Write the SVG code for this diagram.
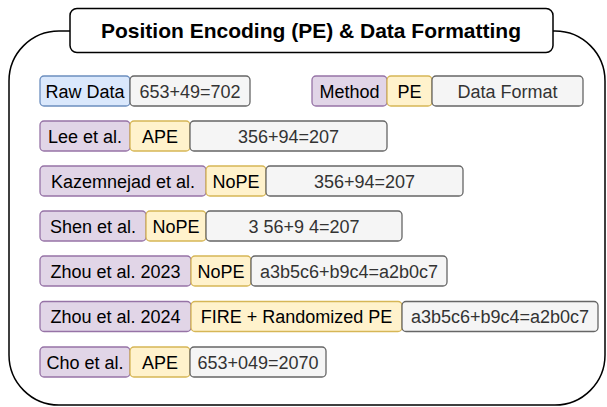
<svg xmlns="http://www.w3.org/2000/svg" width="607" height="407" viewBox="0 0 607 407">
<style>
  .b { stroke-width: 1.3; }
  .m { fill: #e1d5e7; stroke: #9673a6; }
  .p { fill: #fff2cc; stroke: #d6b656; }
  .d { fill: #f5f5f5; stroke: #666666; }
  .r { fill: #dae8fc; stroke: #6c8ebf; }
  text { font-family: "Liberation Sans", Arial, sans-serif; font-size: 18px; text-anchor: middle; fill: #000; }
  text.g { fill: #333333; }
  .title { font-size: 21px; font-weight: bold; }
</style>
<g id="frame">
  <rect x="9" y="31" width="596" height="374" rx="50" ry="50" fill="#ffffff" stroke="#000000" stroke-width="1.5"/>
</g>
<g id="title">
  <rect x="70" y="8.5" width="483" height="44" rx="7" ry="7" fill="#ffffff" stroke="#000000" stroke-width="1.5"/>
  <text class="title" x="311" y="38">Position Encoding (PE) &amp; Data Formatting</text>
</g>
<g id="connectors"></g>
<g id="row-raw">
  <rect class="b r" x="40" y="76" width="90" height="30" rx="4"/>
  <text x="85" y="97.5">Raw Data</text>
  <rect class="b d" x="130" y="76" width="120" height="30" rx="4"/>
  <text class="g" x="190" y="97.5">653+49=702</text>
</g>
<g id="legend">
  <rect class="b m" x="312" y="76" width="75" height="30" rx="4"/>
  <text x="349.5" y="97.5">Method</text>
  <rect class="b p" x="387" y="76" width="45" height="30" rx="4"/>
  <text x="409.5" y="97.5">PE</text>
  <rect class="b d" x="432" y="76" width="151" height="30" rx="4"/>
  <text class="g" x="507.5" y="97.5">Data Format</text>
</g>
<g id="row-lee">
  <rect class="b m" x="40" y="121" width="90" height="30" rx="4"/>
  <text x="85" y="142.5">Lee et al.</text>
  <rect class="b p" x="130" y="121" width="60" height="30" rx="4"/>
  <text x="160" y="142.5">APE</text>
  <rect class="b d" x="190" y="121" width="197" height="30" rx="4"/>
  <text class="g" x="288.5" y="142.5">356+94=207</text>
</g>
<g id="row-kazemnejad">
  <rect class="b m" x="40" y="166" width="166" height="30" rx="4"/>
  <text x="123" y="187.5">Kazemnejad et al.</text>
  <rect class="b p" x="206" y="166" width="60" height="30" rx="4"/>
  <text x="236" y="187.5">NoPE</text>
  <rect class="b d" x="266" y="166" width="197" height="30" rx="4"/>
  <text class="g" x="364.5" y="187.5">356+94=207</text>
</g>
<g id="row-shen">
  <rect class="b m" x="40" y="211" width="106" height="30" rx="4"/>
  <text x="93" y="232.5">Shen et al.</text>
  <rect class="b p" x="146" y="211" width="60" height="30" rx="4"/>
  <text x="176" y="232.5">NoPE</text>
  <rect class="b d" x="206" y="211" width="196" height="30" rx="4"/>
  <text class="g" x="304" y="232.5">3 56+9 4=207</text>
</g>
<g id="row-zhou2023">
  <rect class="b m" x="40" y="256" width="151" height="30" rx="4"/>
  <text x="115.5" y="277.5">Zhou et al. 2023</text>
  <rect class="b p" x="191" y="256" width="60" height="30" rx="4"/>
  <text x="221" y="277.5">NoPE</text>
  <rect class="b d" x="251" y="256" width="196" height="30" rx="4"/>
  <text class="g" x="349" y="277.5">a3b5c6+b9c4=a2b0c7</text>
</g>
<g id="row-zhou2024">
  <rect class="b m" x="40" y="301.5" width="151" height="30" rx="4"/>
  <text x="115.5" y="323">Zhou et al. 2024</text>
  <rect class="b p" x="191" y="301.5" width="211" height="30" rx="4"/>
  <text x="296.5" y="323">FIRE + Randomized PE</text>
  <rect class="b d" x="402" y="301.5" width="196" height="30" rx="4"/>
  <text class="g" x="500" y="323">a3b5c6+b9c4=a2b0c7</text>
</g>
<g id="row-cho">
  <rect class="b m" x="40" y="347" width="90" height="30" rx="4"/>
  <text x="85" y="368.5">Cho et al.</text>
  <rect class="b p" x="130" y="347" width="60" height="30" rx="4"/>
  <text x="160" y="368.5">APE</text>
  <rect class="b d" x="190" y="347" width="136" height="30" rx="4"/>
  <text class="g" x="258" y="368.5">653+049=2070</text>
</g>
</svg>
